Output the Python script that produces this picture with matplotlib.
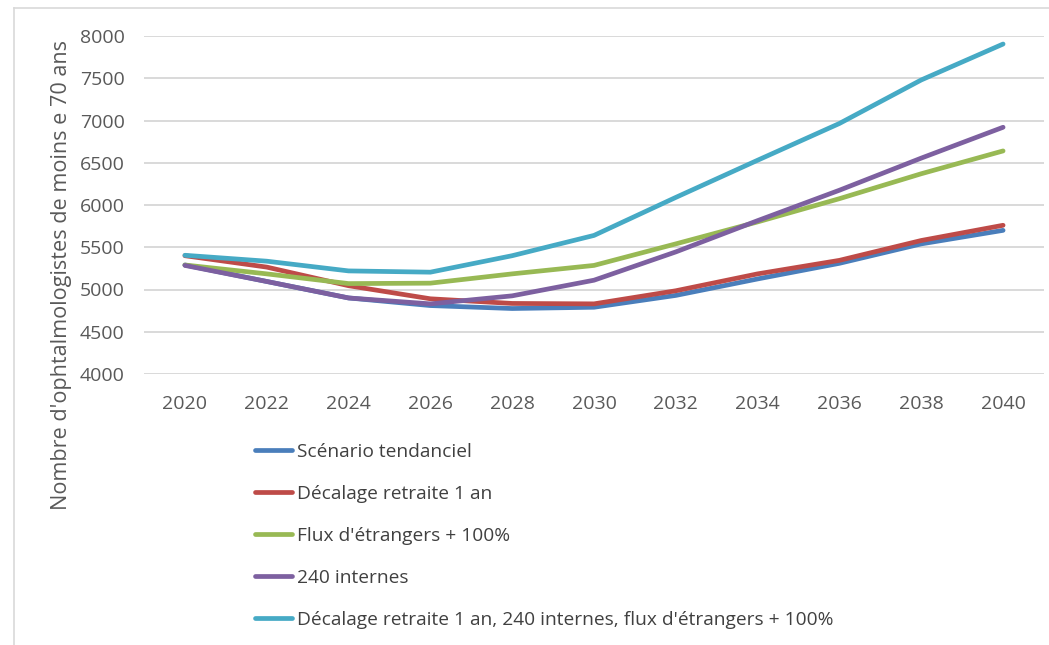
import matplotlib
matplotlib.use("Agg")
import matplotlib.pyplot as plt
from matplotlib.lines import Line2D

years = [2020, 2022, 2024, 2026, 2028, 2030, 2032, 2034, 2036, 2038, 2040]

tendanciel = [5290, 5095, 4900, 4810, 4775, 4790, 4930, 5125, 5310, 5540, 5700]
decalage = [5400, 5265, 5045, 4890, 4835, 4830, 4985, 5185, 5345, 5580, 5760]
flux = [5290, 5185, 5070, 5075, 5185, 5285, 5540, 5800, 6075, 6370, 6640]
internes = [5285, 5095, 4900, 4830, 4925, 5110, 5445, 5815, 6175, 6555, 6920]
combine = [5405, 5335, 5220, 5205, 5400, 5640, 6090, 6530, 6965, 7480, 7905]

labels = [
    "Scénario tendanciel",
    "Décalage retraite 1 an",
    "Flux d'étrangers + 100%",
    "240 internes",
    "Décalage retraite 1 an, 240 internes, flux d'étrangers + 100%",
]
colors = ["#4A7EBB", "#BE4B48", "#98B954", "#7D60A0", "#46AAC5"]
series = [tendanciel, decalage, flux, internes, combine]

yticks = [4000, 4500, 5000, 5500, 6000, 6500, 7000, 7500, 8000]

plt.rcParams["font.family"] = ["Open Sans", "DejaVu Sans"]

fig = plt.figure(figsize=(10.49, 6.45), dpi=100)
ax = fig.add_axes([144 / 1049, 1 - 374 / 645, (1044 - 144) / 1049, (374 - 36) / 645])

for vals, col, lab in zip(series, colors, labels):
    ax.plot(years, vals, color=col, lw=3.4, label=lab,
            solid_capstyle="round", solid_joinstyle="round")

ax.set_xlim(2019, 2041)
ax.set_ylim(4000, 8000)
ax.set_xticks(years)
ax.set_xticklabels([str(y) for y in years])
ax.set_yticks(yticks)
ax.set_yticklabels([str(v) for v in yticks])
ax.grid(axis="y", color="#D9D9D9", lw=1.4)
ax.set_axisbelow(True)
for s in ax.spines.values():
    s.set_visible(False)
ax.tick_params(axis="both", length=0, labelsize=14, colors="#595959")
ax.tick_params(axis="y", pad=14)
ax.tick_params(axis="x", pad=15)

fig.text(62 / 1049, 1 - 275 / 645, "Nombre d'ophtalmologistes de moins e 70 ans",
         rotation=90, ha="center", va="center", fontsize=15.6, color="#595959")

leg = fig.legend(loc="upper left", bbox_to_anchor=(255 / 1049, 1 - 443 / 645),
                 frameon=False, fontsize=13.8, borderpad=0, borderaxespad=0,
                 handlelength=1.95, handletextpad=0.26, labelspacing=1.25)
for t in leg.get_texts():
    t.set_color("#404040")
for h in leg.get_lines():
    h.set_linewidth(3.4)

fig.add_artist(Line2D([14 / 1049, 14 / 1049], [0, 1 - 8 / 645], transform=fig.transFigure,
                      color="#D9D9D9", lw=1.2))
fig.add_artist(Line2D([14 / 1049, 1], [1 - 8 / 645, 1 - 8 / 645], transform=fig.transFigure,
                      color="#D9D9D9", lw=1.2))

fig.savefig("out.png", dpi=100)
